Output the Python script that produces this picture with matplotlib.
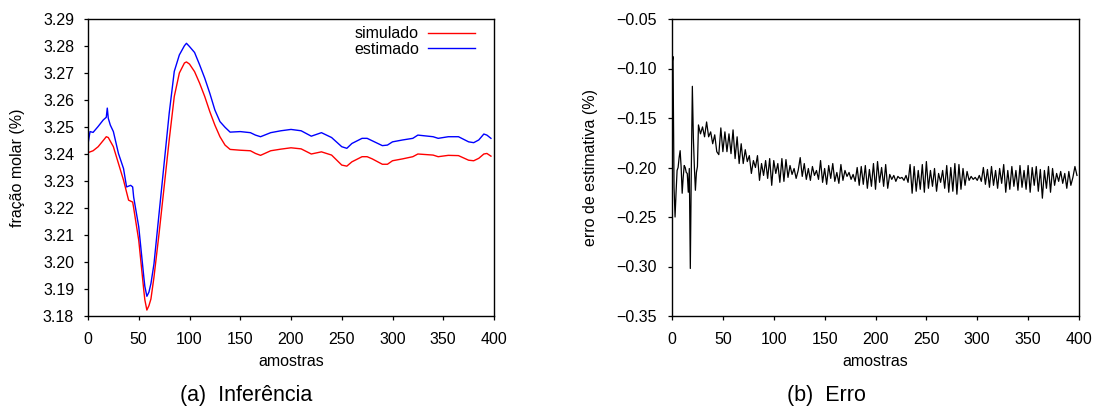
import matplotlib
matplotlib.use("Agg")
import matplotlib.pyplot as plt
from matplotlib.ticker import FuncFormatter

plt.rcParams["font.family"] = ["Liberation Sans", "DejaVu Sans"]

# (a) simulated molar fraction (%)
sim_x = [0, 5, 10, 15, 18, 20, 25, 30, 35, 40,
         44, 45, 50, 55, 56, 58, 60, 62, 65, 70,
         75, 80, 85, 90, 95, 97, 100, 105, 110, 115,
         120, 125, 130, 135, 140, 150, 160, 165, 170, 180,
         190, 200, 210, 220, 230, 240, 250, 255, 260, 270,
         275, 280, 290, 295, 300, 310, 320, 325, 340, 345,
         355, 365, 375, 380, 385, 390, 393, 397]
sim_y = [3.2405, 3.2412, 3.2427, 3.2450, 3.2464, 3.2461, 3.2427, 3.2365, 3.2303, 3.2229,
         3.2222, 3.2200, 3.2080, 3.1894, 3.1860, 3.1822, 3.1838, 3.1863, 3.1944, 3.2105,
         3.2278, 3.2452, 3.2613, 3.2700, 3.2737, 3.2741, 3.2733, 3.2705, 3.2662, 3.2613,
         3.2557, 3.2507, 3.2464, 3.2433, 3.2417, 3.2414, 3.2412, 3.2402, 3.2395, 3.2412,
         3.2418, 3.2423, 3.2419, 3.2400, 3.2408, 3.2396, 3.2359, 3.2355, 3.2371, 3.2390,
         3.2390, 3.2382, 3.2362, 3.2362, 3.2375, 3.2382, 3.2390, 3.2400, 3.2396, 3.2390,
         3.2395, 3.2394, 3.2377, 3.2375, 3.2384, 3.2400, 3.2402, 3.2392]

# (a) estimated molar fraction (%)
est_x = [0, 2, 5, 10, 15, 18, 19, 20, 22, 25,
         30, 35, 38, 42, 44, 45, 50, 55, 56, 58,
         60, 62, 65, 70, 75, 80, 85, 90, 95, 97,
         100, 105, 110, 115, 120, 125, 130, 135, 140, 150,
         160, 165, 170, 180, 190, 200, 210, 220, 230, 240,
         250, 255, 260, 270, 275, 280, 290, 295, 300, 310,
         320, 325, 340, 345, 355, 365, 375, 380, 385, 390,
         393, 397]
est_y = [3.2437, 3.2483, 3.2480, 3.2502, 3.2526, 3.2536, 3.2570, 3.2532, 3.2507, 3.2483,
         3.2402, 3.2346, 3.2278, 3.2284, 3.2278, 3.2240, 3.2130, 3.1944, 3.1910, 3.1873,
         3.1888, 3.1920, 3.1993, 3.2179, 3.2365, 3.2551, 3.2706, 3.2767, 3.2801, 3.2810,
         3.2798, 3.2776, 3.2730, 3.2681, 3.2625, 3.2563, 3.2520, 3.2499, 3.2481, 3.2483,
         3.2479, 3.2470, 3.2464, 3.2479, 3.2486, 3.2491, 3.2486, 3.2466, 3.2479, 3.2461,
         3.2427, 3.2421, 3.2439, 3.2458, 3.2458, 3.2449, 3.2431, 3.2433, 3.2445, 3.2452,
         3.2458, 3.2470, 3.2464, 3.2458, 3.2464, 3.2464, 3.2445, 3.2442, 3.2452, 3.2474,
         3.2470, 3.2458]

# (b) estimation error (%): samples 0..25 one by one, then every second sample
err_x = list(range(0, 26)) + list(range(26, 400, 2))
err_y = [-0.095, -0.088, -0.220, -0.250, -0.225, -0.203, -0.200, -0.190, -0.183, -0.200,
         -0.226, -0.210, -0.198, -0.200, -0.205, -0.206, -0.225, -0.201, -0.302, -0.200,
         -0.118, -0.170, -0.200, -0.223, -0.205, -0.199,
         # 26..398
         -0.157, -0.166, -0.159, -0.169, -0.154, -0.169, -0.164, -0.176, -0.167, -0.184,
         -0.187, -0.160, -0.184, -0.164, -0.184, -0.166, -0.186, -0.162, -0.191, -0.169,
         -0.196, -0.176, -0.196, -0.182, -0.194, -0.188, -0.206, -0.193, -0.200, -0.188,
         -0.213, -0.196, -0.208, -0.193, -0.211, -0.191, -0.218, -0.193, -0.206, -0.196,
         -0.215, -0.191, -0.214, -0.192, -0.210, -0.198, -0.207, -0.201, -0.211, -0.203,
         -0.190, -0.209, -0.196, -0.212, -0.201, -0.213, -0.199, -0.208, -0.203, -0.212,
         -0.193, -0.215, -0.201, -0.217, -0.198, -0.211, -0.196, -0.214, -0.205, -0.216,
         -0.197, -0.213, -0.203, -0.209, -0.205, -0.212, -0.207, -0.214, -0.200, -0.218,
         -0.199, -0.217, -0.198, -0.221, -0.202, -0.219, -0.196, -0.222, -0.194, -0.215,
         -0.200, -0.219, -0.197, -0.221, -0.207, -0.212, -0.208, -0.214, -0.209, -0.211,
         -0.210, -0.213, -0.208, -0.215, -0.197, -0.226, -0.199, -0.224, -0.203, -0.222,
         -0.197, -0.225, -0.194, -0.221, -0.203, -0.219, -0.201, -0.224, -0.206, -0.215,
         -0.203, -0.221, -0.198, -0.225, -0.200, -0.224, -0.196, -0.227, -0.197, -0.222,
         -0.201, -0.218, -0.204, -0.213, -0.209, -0.212, -0.210, -0.213, -0.208, -0.214,
         -0.200, -0.217, -0.202, -0.220, -0.199, -0.218, -0.203, -0.221, -0.201, -0.216,
         -0.197, -0.225, -0.203, -0.222, -0.199, -0.219, -0.203, -0.223, -0.198, -0.220,
         -0.203, -0.222, -0.198, -0.225, -0.200, -0.218, -0.199, -0.224, -0.202, -0.231,
         -0.203, -0.221, -0.199, -0.225, -0.201, -0.218, -0.206, -0.214, -0.204, -0.216,
         -0.206, -0.221, -0.204, -0.218, -0.210, -0.199, -0.208]

x_ticks = [0, 50, 100, 150, 200, 250, 300, 350, 400]
frac_ticks = [3.18, 3.19, 3.20, 3.21, 3.22, 3.23, 3.24, 3.25, 3.26, 3.27, 3.28, 3.29]
err_ticks = [-0.35, -0.30, -0.25, -0.20, -0.15, -0.10, -0.05]

W, H = 1096, 407
FS = 11.5

two_dec = FuncFormatter(lambda v, _: f"{v:.2f}".replace("-", "\u2212"))


def style(ax, ypad):
    for side in ("top", "right", "bottom", "left"):
        ax.spines[side].set_linewidth(1.0)
    ax.tick_params(direction="out", length=3, width=0.9, labelsize=FS,
                   top=False, right=False)
    ax.tick_params(axis="x", pad=8.5)
    ax.tick_params(axis="y", pad=ypad)
    ax.set_xlim(0, 400)
    ax.set_xticks(x_ticks)
    ax.yaxis.set_major_formatter(two_dec)


fig = plt.figure(figsize=(W / 100, H / 100), dpi=100)
ax1 = fig.add_axes([88 / W, 1 - 316 / H, 406 / W, 297 / H])
ax2 = fig.add_axes([672 / W, 1 - 316 / H, 407 / W, 297 / H])

ax1.plot(sim_x, sim_y, color="#ff0000", lw=1.0, label="simulado")
ax1.plot(est_x, est_y, color="#0000ff", lw=1.0, label="estimado")
style(ax1, 7)
ax1.set_ylim(3.18, 3.29)
ax1.set_yticks(frac_ticks)
ax1.set_xlabel("amostras", fontsize=FS, va="center")
ax1.xaxis.set_label_coords(0.5, (316 - 362) / 297)
ax1.set_ylabel("fração molar (%)", fontsize=FS, va="center")
ax1.yaxis.set_label_coords((18 - 88) / 406, 0.5)
ax1.legend(loc="upper right", bbox_to_anchor=(1 - 16 / 406, 1 - 4 / 297),
           frameon=False, markerfirst=False, fontsize=FS, handlelength=2.9,
           handletextpad=0.6, labelspacing=0.05, borderpad=0.2, borderaxespad=0)

ax2.plot(err_x, err_y, color="black", lw=0.9)
style(ax2, 8)
ax2.set_ylim(-0.35, -0.05)
ax2.set_yticks(err_ticks)
ax2.set_xlabel("amostras", fontsize=FS, va="center")
ax2.xaxis.set_label_coords(0.5, (316 - 362) / 297)
ax2.set_ylabel("erro de estimativa (%)", fontsize=FS, va="center")
ax2.yaxis.set_label_coords((590 - 672) / 407, 0.5)

fig.text(246 / W, 1 - 395 / H, "(a)  Inferência", ha="center", va="center", fontsize=15.5)
fig.text(826 / W, 1 - 395 / H, "(b)  Erro", ha="center", va="center", fontsize=15.5)

fig.savefig("out.png", dpi=100)
